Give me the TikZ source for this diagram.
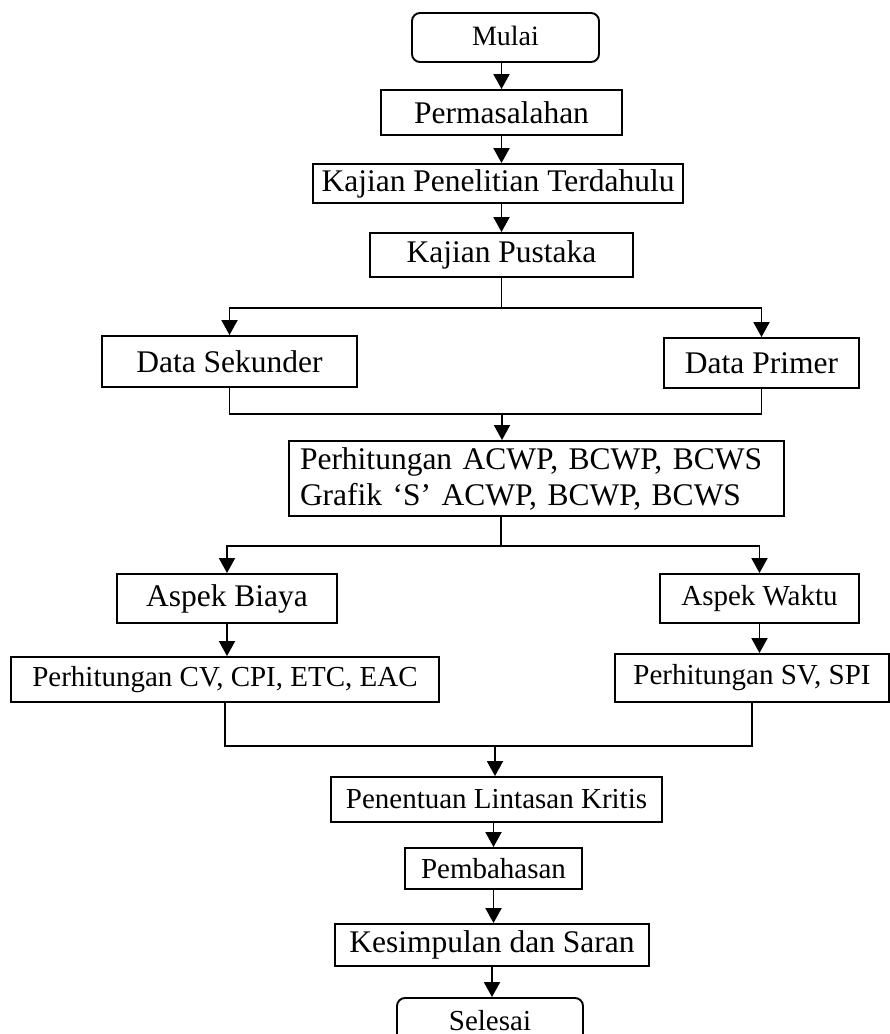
\documentclass[tikz,border=0pt]{standalone}
\usepackage{fontspec}
\setmainfont{Liberation Serif}
\usetikzlibrary{arrows.meta}

\begin{document}
\begin{tikzpicture}[x=1pt, y=-1pt,
    box/.style={draw, line width=1.9pt, inner sep=0pt, font=\fontsize{31.5}{36}\selectfont},
    kecil/.style={font=\fontsize{29}{34}\selectfont},
    ujung/.style={draw, line width=1.9pt, rounded corners=8pt, inner sep=0pt, font=\fontsize{28}{33}\selectfont},
    arr/.style={-{Triangle[width=16pt, length=15pt]}, line width=1.9pt}]
        \clip (0,0) rectangle (890,1034);
        % alur utama
        \node[ujung, minimum width=187, minimum height=49, text depth=4pt] (mulai) at (505.5, 37.5) {Mulai};
        \node[box, minimum width=241, minimum height=45] (masalah) at (501.5, 112.5) {Permasalahan};
        \node[box, minimum width=370, minimum height=39] (terdahulu) at (498, 183.5) {Kajian Penelitian Terdahulu};
        \node[box, minimum width=263, minimum height=44] (pustaka) at (501.5, 255) {Kajian Pustaka};
        \node[box, minimum width=255, minimum height=51] (sekunder) at (229.5, 361.5) {Data Sekunder};
        \node[box, minimum width=195, minimum height=50] (primer) at (761.5, 363) {Data Primer};
        \node[box, text width=473, inner xsep=11pt, align=left, minimum height=75] (acwp) at (536.5, 478.5) {Perhitungan ACWP, BCWP, BCWS\\Grafik `S' ACWP, BCWP, BCWS};
        \node[box, minimum width=220, minimum height=49] (biaya) at (227, 598.5) {Aspek Biaya};
        \node[box, kecil, minimum width=199, minimum height=49] (waktu) at (759.5, 598.5) {Aspek Waktu};
        \node[box, kecil, minimum width=428, minimum height=45] (cv) at (225, 679.5) {Perhitungan CV, CPI, ETC, EAC};
        \node[box, kecil, minimum width=274, minimum height=48] (sv) at (752, 678) {Perhitungan SV, SPI};
        \node[box, kecil, minimum width=331, minimum height=45] (kritis) at (496.5, 799.5) {Penentuan Lintasan Kritis};
        \node[box, kecil, minimum width=177, minimum height=41] (bahas) at (493.5, 868.5) {Pembahasan};
        \node[box, minimum width=314, minimum height=42] (simpulan) at (492, 945) {Kesimpulan dan Saran};
        \node[ujung, font=\fontsize{29}{34}\selectfont, minimum width=186, minimum height=46] (selesai) at (490, 1021) {Selesai};
        % titik cabang
        \coordinate (pisah1) at (501.5, 308);
        \coordinate (gabung1) at (502, 414);
        \coordinate (pisah2) at (501, 546);
        \coordinate (gabung2) at (495, 746);
        % panah
        \draw[arr] (masalah.north |- mulai.south) -- (masalah.north);
        \draw[arr] (masalah.south) -- (masalah.south |- terdahulu.north);
        \draw[arr] (pustaka.north |- terdahulu.south) -- (pustaka.north);
        \draw[line width=1.9pt] (pustaka.south) -- (pisah1);
        \draw[arr] (pisah1) -| (sekunder.north);
        \draw[arr] (pisah1) -| (primer.north);
        \draw[line width=1.9pt] (sekunder.south) |- (gabung1);
        \draw[line width=1.9pt] (primer.south) |- (gabung1);
        \draw[arr] (gabung1) -- (gabung1 |- acwp.north);
        \draw[line width=1.9pt] (pisah2 |- acwp.south) -- (pisah2);
        \draw[arr] (pisah2) -| (biaya.north);
        \draw[arr] (pisah2) -| (waktu.north);
        \draw[arr] (biaya.south) -- (biaya.south |- cv.north);
        \draw[arr] (waktu.south) -- (waktu.south |- sv.north);
        \draw[line width=1.9pt] (cv.south) |- (gabung2);
        \draw[line width=1.9pt] (sv.south) |- (gabung2);
        \draw[arr] (gabung2) -- (gabung2 |- kritis.north);
        \draw[arr] (bahas.north |- kritis.south) -- (bahas.north);
        \draw[arr] (bahas.south) -- (bahas.south |- simpulan.north);
        \draw[arr] (simpulan.south) -- (simpulan.south |- selesai.north);
    \end{tikzpicture}
\end{document}
